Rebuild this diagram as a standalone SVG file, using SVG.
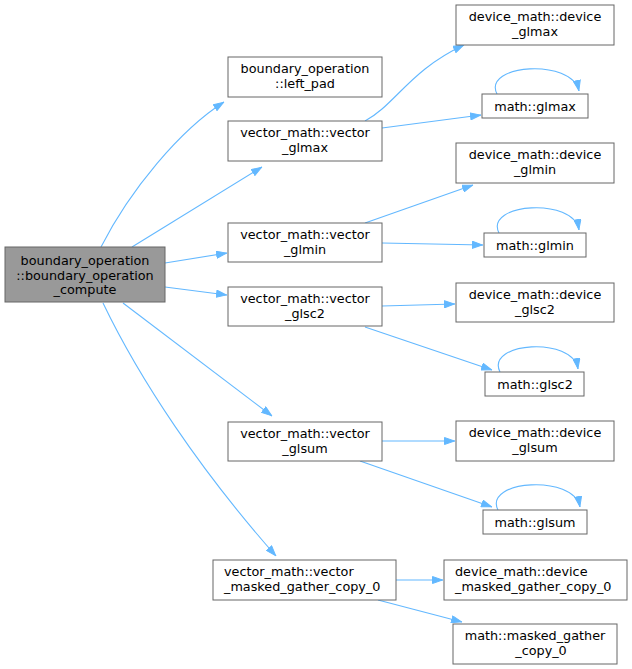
<svg xmlns="http://www.w3.org/2000/svg" width="632" height="669" viewBox="0 0 632 669">
<defs>
<style>
.n rect{fill:#fff;stroke:#666;stroke-width:1}
.m rect{fill:#999;stroke:#666;stroke-width:1}
text{font-family:"DejaVu Sans",sans-serif;font-size:12.8px;fill:#000}
.c{text-anchor:middle}
.e path{fill:none;stroke:#63b8ff;stroke-width:1.1;marker-end:url(#ah)}
</style>
<marker id="ah" viewBox="0 0 11 8" refX="11" refY="4" markerWidth="11" markerHeight="8" markerUnits="userSpaceOnUse" orient="auto">
<path d="M0.5,0.5 L10.5,4 L0.5,7.5 Z" fill="#63b8ff" stroke="#63b8ff"/>
</marker>
</defs>
<rect width="632" height="669" fill="#fff"/>
<g class="e" id="edges">
<path d="M101,247 C130,190 180,130 224,102"/>
<path d="M132,247 L262,167"/>
<path d="M165,263 L227,253"/>
<path d="M165,287 L227,295"/>
<path d="M123,303 L272,416"/>
<path d="M103,303 C140,380 200,470 276,556"/>
<path d="M365,121 C395,105 410,70 464,45"/>
<path d="M382,128 L481,115"/>
<path d="M365,223 L473,185"/>
<path d="M382,243 L483,245"/>
<path d="M382,306 L455,304"/>
<path d="M365,327 L492,370"/>
<path d="M382,441 L455,441"/>
<path d="M360,461 L492,507"/>
<path d="M396,580 L443,580"/>
<path d="M378,600 L462,622"/>
<path d="M497,94 C482,64 572,58 579,91"/>
<path d="M499,233 C484,203 574,197 579,230"/>
<path d="M500,372 C485,342 573,336 578,369"/>
<path d="M498,510 C483,480 574,474 580,507"/>
</g>
<g class="m" id="node_main"><rect x="5" y="247" width="160" height="55"/><text class="c" x="85" y="265">boundary_operation</text><text class="c" x="85" y="279.5">::boundary_operation</text><text class="c" x="85" y="294">_compute</text></g>
<g class="n" id="node_left_pad"><rect x="228" y="57" width="154" height="40"/><text class="c" x="305" y="73">boundary_operation</text><text class="c" x="305" y="88">::left_pad</text></g>
<g class="n" id="node_vector_glmax"><rect x="228" y="121" width="154" height="40"/><text class="c" x="305" y="137">vector_math::vector</text><text class="c" x="305" y="152">_glmax</text></g>
<g class="n" id="node_vector_glmin"><rect x="228" y="223" width="154" height="39"/><text class="c" x="305" y="239">vector_math::vector</text><text class="c" x="305" y="254">_glmin</text></g>
<g class="n" id="node_vector_glsc2"><rect x="228" y="287" width="154" height="39"/><text class="c" x="305" y="303">vector_math::vector</text><text class="c" x="305" y="318">_glsc2</text></g>
<g class="n" id="node_vector_glsum"><rect x="228" y="422" width="154" height="39"/><text class="c" x="305" y="438">vector_math::vector</text><text class="c" x="305" y="453">_glsum</text></g>
<g class="n" id="node_vector_masked"><rect x="213" y="560" width="183" height="40"/><text x="224" y="576">vector_math::vector</text><text x="224" y="591">_masked_gather_copy_0</text></g>
<g class="n" id="node_device_glmax"><rect x="456" y="5" width="158" height="40"/><text class="c" x="535" y="21">device_math::device</text><text class="c" x="535" y="36">_glmax</text></g>
<g class="n" id="node_math_glmax"><rect x="482" y="94" width="106" height="24"/><text class="c" x="535" y="111">math::glmax</text></g>
<g class="n" id="node_device_glmin"><rect x="456" y="143" width="158" height="40"/><text class="c" x="535" y="159">device_math::device</text><text class="c" x="535" y="174">_glmin</text></g>
<g class="n" id="node_math_glmin"><rect x="484" y="233" width="102" height="24"/><text class="c" x="535" y="250">math::glmin</text></g>
<g class="n" id="node_device_glsc2"><rect x="456" y="283" width="158" height="39"/><text class="c" x="535" y="299">device_math::device</text><text class="c" x="535" y="314">_glsc2</text></g>
<g class="n" id="node_math_glsc2"><rect x="485" y="372" width="99" height="24"/><text class="c" x="535" y="389">math::glsc2</text></g>
<g class="n" id="node_device_glsum"><rect x="456" y="421" width="158" height="40"/><text class="c" x="535" y="437">device_math::device</text><text class="c" x="535" y="452">_glsum</text></g>
<g class="n" id="node_math_glsum"><rect x="483" y="510" width="104" height="24"/><text class="c" x="535" y="527">math::glsum</text></g>
<g class="n" id="node_device_masked"><rect x="444" y="560" width="183" height="40"/><text x="455" y="576">device_math::device</text><text x="455" y="591">_masked_gather_copy_0</text></g>
<g class="n" id="node_math_masked"><rect x="453" y="624" width="164" height="40"/><text class="c" x="535" y="640">math::masked_gather</text><text class="c" x="541" y="655">_copy_0</text></g>
</svg>
